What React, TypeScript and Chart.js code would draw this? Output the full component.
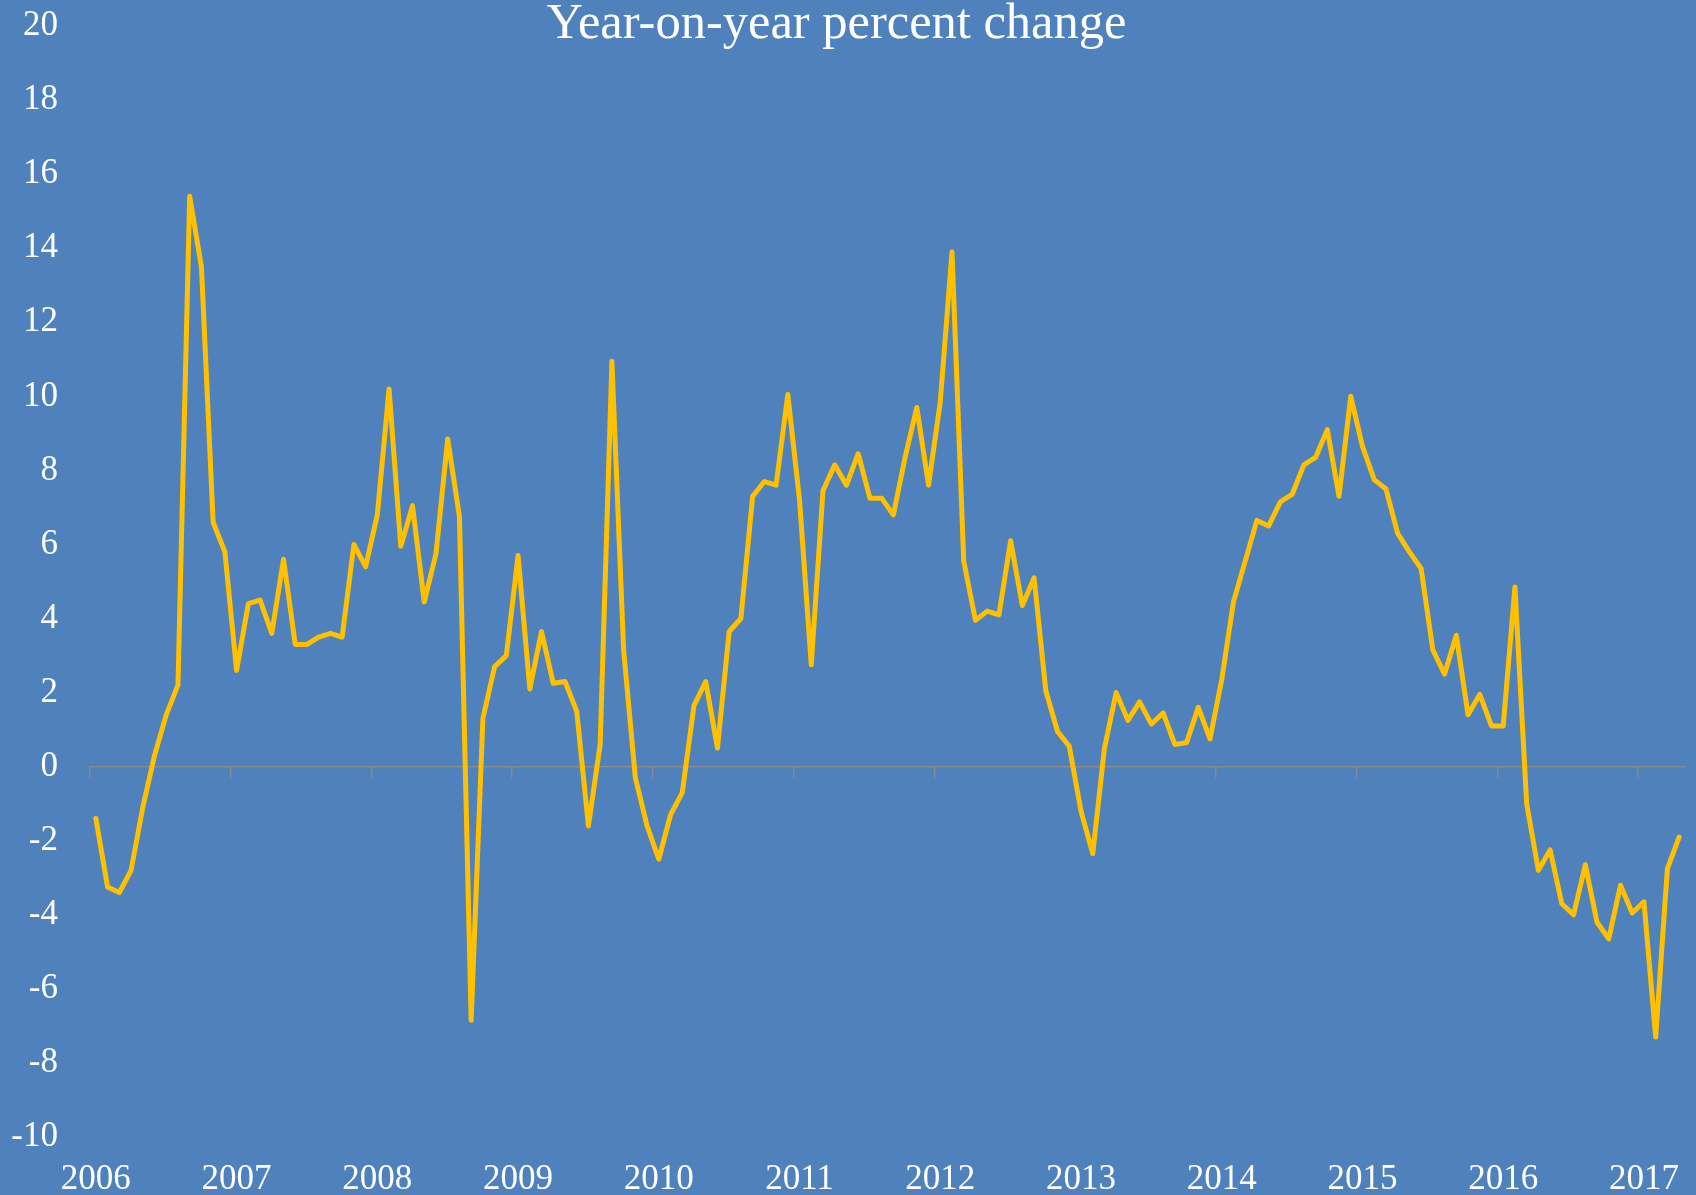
import { useEffect, useRef } from "react";
import { Chart, registerables } from "chart.js";

Chart.register(...registerables);

const chartTitle = "Year-on-year percent change";
const yearLabels = ["2006", "2007", "2008", "2009", "2010", "2011", "2012", "2013", "2014", "2015", "2016", "2017"];

const values2006 = [-1.4, -3.25, -3.4, -2.8, -1.1, 0.3, 1.4, 2.2, 15.4, 13.5, 6.6, 5.8];
const values2007 = [2.6, 4.4, 4.5, 3.6, 5.6, 3.3, 3.3, 3.5, 3.6, 3.5, 6.0, 5.4];
const values2008 = [6.8, 10.2, 5.95, 7.05, 4.45, 5.75, 8.85, 6.75, -6.85, 1.3, 2.7, 3.0];
const values2009 = [5.7, 2.1, 3.65, 2.25, 2.3, 1.5, -1.6, 0.6, 10.95, 3.15, -0.3, -1.6];
const values2010 = [-2.5, -1.3, -0.7, 1.65, 2.3, 0.5, 3.65, 4.0, 7.3, 7.7, 7.6, 10.05];
const values2011 = [7.2, 2.75, 7.45, 8.15, 7.6, 8.45, 7.25, 7.25, 6.8, 8.35, 9.7, 7.6];
const values2012 = [9.85, 13.9, 5.55, 3.95, 4.2, 4.1, 6.1, 4.35, 5.1, 2.05, 0.95, 0.55];
const values2013 = [-1.2, -2.35, 0.5, 2.0, 1.25, 1.75, 1.15, 1.45, 0.6, 0.65, 1.6, 0.75];
const values2014 = [2.35, 4.45, 5.55, 6.65, 6.5, 7.15, 7.35, 8.15, 8.35, 9.1, 7.3, 10.0];
const values2015 = [8.65, 7.75, 7.5, 6.3, 5.8, 5.35, 3.15, 2.5, 3.55, 1.4, 1.95, 1.1];
const values2016 = [1.1, 4.85, -1.0, -2.8, -2.25, -3.7, -4.0, -2.65, -4.2, -4.65, -3.2, -3.95];
const values2017 = [-3.65, -7.3, -2.75, -1.9];

const monthlyValues = [
  ...values2006, ...values2007, ...values2008, ...values2009, ...values2010, ...values2011,
  ...values2012, ...values2013, ...values2014, ...values2015, ...values2016, ...values2017,
];

const yMin = -10;
const yMax = 20;
const yStep = 2;

const BG = "#4F81BD";
const LINE = "#FFC000";
const AXIS = "#8A8A8A";
const FONT = "'Liberation Serif', 'Times New Roman', serif";

export default function App() {
  const canvasRef = useRef<HTMLCanvasElement | null>(null);

  useEffect(() => {
    const canvas = canvasRef.current;
    if (!canvas) return;
    const n = monthlyValues.length;
    const xMin = -0.5;
    const xMax = n - 0.5;
    const chart = new Chart(canvas, {
      type: "line",
      data: {
        datasets: [
          {
            data: monthlyValues.map((v, i) => ({ x: i, y: v })),
            borderColor: LINE,
            borderWidth: 5,
            pointRadius: 0,
            tension: 0,
            borderJoinStyle: "round",
            borderCapStyle: "round",
            fill: false,
            xAxisID: "x",
            yAxisID: "y",
          },
        ],
      },
      options: {
        responsive: false,
        animation: false,
        devicePixelRatio: 1,
        layout: { padding: { top: 26, right: 11, left: 0, bottom: 0 } },
        plugins: { legend: { display: false }, tooltip: { enabled: false }, title: { display: false } },
        scales: {
          x: {
            type: "linear",
            position: "bottom",
            min: xMin,
            max: xMax,
            afterBuildTicks: (scale: any) => {
              scale.ticks = yearLabels.map((_, k) => ({ value: k * 12 }));
            },
            afterFit: (scale: any) => {
              scale.height = 58;
              scale.paddingLeft = 0;
              scale.paddingRight = 0;
            },
            grid: { display: false, drawTicks: false },
            border: { display: false },
            ticks: {
              autoSkip: false,
              maxRotation: 0,
              padding: 22,
              color: "#FFFFFF",
              font: { family: FONT, size: 35 },
              callback: (v: any) => yearLabels[Math.round(Number(v) / 12)] ?? "",
            },
          },
          x0: {
            type: "linear",
            position: { y: 0 } as any,
            min: xMin,
            max: xMax,
            afterBuildTicks: (scale: any) => {
              scale.ticks = yearLabels.map((_, k) => ({ value: k * 12 - 0.5 }));
            },
            afterFit: (scale: any) => {
              scale.paddingLeft = 0;
              scale.paddingRight = 0;
              scale.paddingTop = 0;
              scale.paddingBottom = 0;
            },
            grid: {
              display: true,
              drawOnChartArea: false,
              drawTicks: true,
              tickLength: 10,
              color: AXIS,
              lineWidth: 1.5,
            },
            border: { display: true, color: AXIS, width: 1.5 },
            ticks: { display: false },
          },
          y: {
            type: "linear",
            position: "left",
            min: yMin,
            max: yMax,
            afterFit: (scale: any) => {
              scale.width = 90;
              scale.paddingTop = 0;
              scale.paddingBottom = 0;
            },
            grid: { display: false, drawTicks: false },
            border: { display: false },
            ticks: {
              stepSize: yStep,
              padding: 32,
              color: "#FFFFFF",
              font: { family: FONT, size: 35 },
              callback: (v: any) => String(v),
            },
          },
        },
      },
    });
    return () => chart.destroy();
  }, []);

  return (
    <div
      style={{
        position: "fixed",
        left: 0,
        top: 0,
        width: 1696,
        height: 1195,
        background: BG,
        overflow: "hidden",
      }}
    >
      <canvas ref={canvasRef} width={1696} height={1195} style={{ position: "absolute", left: 0, top: 0, width: 1696, height: 1195 }} />
      <div
        style={{
          position: "absolute",
          left: 0,
          top: -3,
          width: 1673,
          textAlign: "center",
          color: "#FFFFFF",
          fontFamily: FONT,
          fontSize: 50.5,
          lineHeight: "49px",
          whiteSpace: "nowrap",
          pointerEvents: "none",
        }}
      >
        {chartTitle}
      </div>
    </div>
  );
}
